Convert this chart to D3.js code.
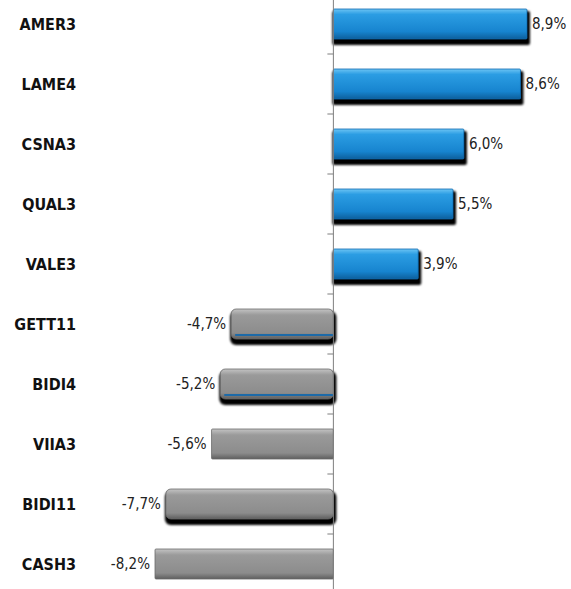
<!DOCTYPE html>
<html>
<head>
<meta charset="utf-8">
<script src="https://cdn.jsdelivr.net/npm/d3@7"></script>
<style>
  body { margin: 0; background: #fff; }
  svg { display: block; }
  .cat { font-family: "Liberation Sans Narrow", "DejaVu Sans Condensed", Arial, sans-serif; font-weight: bold; font-size: 16px; fill: #111; }
  .val { font-family: "Liberation Sans Narrow", "DejaVu Sans Condensed", Arial, sans-serif; font-size: 15px; fill: #222; }
</style>
</head>
<body>
<div id="chart"></div>
<script>
// tickers and their change in %
const tickers = ["AMER3", "LAME4", "CSNA3", "QUAL3", "VALE3", "GETT11", "BIDI4", "VIIA3", "BIDI11", "CASH3"];
const changes = [8.9, 8.6, 6.0, 5.5, 3.9, -4.7, -5.2, -5.6, -7.7, -8.2];
// which bars have the heavy shadow look
const shadowed = [true, true, true, true, true, true, true, false, true, false];

const data = tickers.map((t, i) => ({ name: t, value: changes[i], shadow: shadowed[i] }));

const width = 571, height = 589;

const svg = d3.select("#chart").append("svg")
  .attr("width", width)
  .attr("height", height);

const defs = svg.append("defs");

// blue gradient for gains
const gBlue = defs.append("linearGradient").attr("id", "gBlue").attr("x1", 0).attr("y1", 0).attr("x2", 0).attr("y2", 1);
gBlue.append("stop").attr("offset", "0%").attr("stop-color", "#6cc4f4");
gBlue.append("stop").attr("offset", "18%").attr("stop-color", "#2b9de3");
gBlue.append("stop").attr("offset", "75%").attr("stop-color", "#1784cf");
gBlue.append("stop").attr("offset", "100%").attr("stop-color", "#0d5f9c");

// gray gradient for losses
const gGray = defs.append("linearGradient").attr("id", "gGray").attr("x1", 0).attr("y1", 0).attr("x2", 0).attr("y2", 1);
gGray.append("stop").attr("offset", "0%").attr("stop-color", "#c4c4c4");
gGray.append("stop").attr("offset", "20%").attr("stop-color", "#9a9a9a");
gGray.append("stop").attr("offset", "80%").attr("stop-color", "#8c8c8c");
gGray.append("stop").attr("offset", "100%").attr("stop-color", "#5e5e5e");

const blur = defs.append("filter").attr("id", "blur").attr("x", "-10%").attr("y", "-30%").attr("width", "120%").attr("height", "160%");
blur.append("feGaussianBlur").attr("stdDeviation", 1.2);

// scales
const x = d3.scaleLinear()
  .domain([-8.2, 8.9])
  .range([155, 527]);

const y = d3.scaleBand()
  .domain(tickers)
  .range([-6, 594])
  .paddingInner(0.5)
  .paddingOuter(0.25);

const bh = y.bandwidth();

// shadows behind bars
svg.selectAll(".shadow")
  .data(data.filter(d => d.shadow))
  .enter().append("rect")
  .attr("class", "shadow")
  .attr("x", d => Math.min(x(0), x(d.value)) - 1)
  .attr("y", d => y(d.name) + 2)
  .attr("width", d => Math.abs(x(d.value) - x(0)) + 4)
  .attr("height", bh + 4)
  .attr("rx", d => d.value < 0 ? 6 : 2)
  .attr("fill", "#000")
  .attr("filter", "url(#blur)");

// the bars
svg.selectAll(".bar")
  .data(data)
  .enter().append("rect")
  .attr("class", "bar")
  .attr("x", d => Math.min(x(0), x(d.value)))
  .attr("y", d => y(d.name))
  .attr("width", d => Math.abs(x(d.value) - x(0)))
  .attr("height", bh)
  .attr("rx", d => (d.value < 0 && d.shadow) ? 5 : 1)
  .attr("fill", d => d.value >= 0 ? "url(#gBlue)" : "url(#gGray)")
  .attr("stroke", d => d.value >= 0 ? "#0f6bb0" : "#6a6a6a")
  .attr("stroke-width", 0.8);

// blue line at the bottom of some gray bars
svg.selectAll(".line")
  .data(data.filter(d => d.value < 0 && d.shadow && d.name !== "BIDI11"))
  .enter().append("line")
  .attr("x1", d => x(d.value) + 4)
  .attr("x2", x(0))
  .attr("y1", y.bandwidth() - 4)
  .attr("y2", y.bandwidth() - 4)
  .attr("transform", d => `translate(0,${y(d.name)})`)
  .attr("stroke", "#1d6aa8")
  .attr("stroke-width", 2);

// zero axis with ticks between categories
svg.append("line")
  .attr("x1", x(0)).attr("x2", x(0))
  .attr("y1", 0).attr("y2", height)
  .attr("stroke", "#7f7f7f")
  .attr("stroke-width", 1);

svg.selectAll(".tick")
  .data(tickers.slice(1))
  .enter().append("line")
  .attr("class", "tick")
  .attr("x1", x(0) - 6).attr("x2", x(0))
  .attr("y1", d => y(d) - y.step() * y.paddingInner() / 2)
  .attr("y2", d => y(d) - y.step() * y.paddingInner() / 2)
  .attr("stroke", "#7f7f7f");

// category labels
svg.selectAll(".cat")
  .data(data)
  .enter().append("text")
  .attr("class", "cat")
  .attr("x", 76)
  .attr("y", d => y(d.name) + bh / 2)
  .attr("dy", ".35em")
  .attr("text-anchor", "end")
  .text(d => d.name);

// value labels
svg.selectAll(".val")
  .data(data)
  .enter().append("text")
  .attr("class", "val")
  .attr("x", d => d.value >= 0 ? x(d.value) + 5 : x(d.value) - 5)
  .attr("y", d => y(d.name) + bh / 2)
  .attr("dy", ".35em")
  .attr("text-anchor", d => d.value >= 0 ? "start" : "end")
  .text(d => d3.format(".1f")(d.value).replace(".", ",").replace("−", "-") + "%");
</script>
</body>
</html>
